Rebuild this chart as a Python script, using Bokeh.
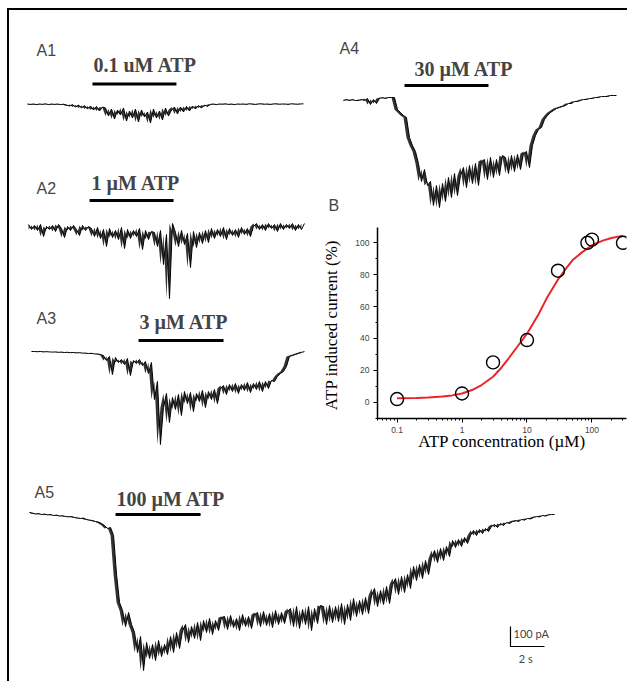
import numpy as np
from bokeh.plotting import figure
from bokeh.layouts import column, row
from bokeh.models import Range1d, Label, FixedTicker, SingleIntervalTicker, CustomJSTickFormatter
from bokeh.embed import file_html
from bokeh.resources import INLINE

# ---------------- data ----------------
panel_names = ["A1", "A2", "A3", "A4", "A5"]
atp_labels = ["0.1 uM ATP", "1 \u00b5M ATP", "3 \u00b5M ATP", "30 \u00b5M ATP", "100 \u00b5M ATP"]

# trace start / end times (s)
trace_start = [1.06, 1.12, 1.29, 1.41, 1.18]
trace_end = [17.29, 17.35, 17.35, 17.47, 32.06]

# ATP application (s)
atp_on = [4.88, 4.71, 7.59, 5.00, 6.24]
atp_off = [9.82, 9.65, 12.59, 9.94, 11.24]

# currents (pA), evenly sampled between start and end
A1_current = [0, -2, 0, -3, 0, -2, 1, -3, 0, -2, 0, -3, -1,
              -5, -10, -3, -15, -5, -20, -8, -25, -10, -30, -12, -35, -15,
              -20, -60, -25, -75, -30, -55, -20, -85, -35, -70, -25, -90, -30, -65, -40, -95, -25, -70, -35, -80, -20, -60, -30,
              -15, -50, -15, -40, -12, -35, -10, -25, -8, -20, -5, -12,
              -2, 0, -3, 0, -1, 1, -2, 0, -3, 0, -1, 0, -2, 1, 0, -2, 0, 1, -1, 0, -2, 0, 1, -1, 0, 0, -2, 1, 0, -1, 0, 1]

A2_current = [0, -25, -5, -30, 0, -60, -10, -25, -5, -35, 0, -20, -65, -10, -30, -5, -25, -55, -5, -30, -10,
              -20, -60, -15, -70, -25, -110, -20, -65, -30, -75, -15, -120, -25, -70, -30, -60, -20, -125, -30, -75, -35,
              -40, -110, -30, -200, -50,
              -370, 5,
              -40, -110, -30, -100, -45, -215, -35, -115, -40, -95, -30, -90,
              -20, -70, -25, -60, -15, -75, -20, -55, -25, -65, -15, -50, -20, -60, -10,
              5, -25, 0, -30, 5, -20, 0, -35, 5, -25, 0, -20, 5, -30, 0, -25, 5]

A3_current = [0, 0, -1, 0, -2, -1, -2, -3, -2, -4, -3, -5, -4, -6, -5, -7, -6, -8, -8, -10, -9, -12, -12, -15,
              -20, -45, -25, -115, -30, -55, -40, -65, -35, -120, -45, -60, -40, -70, -50, -110, -55,
              -240, -150,
              -465,
              -280, -210, -355, -230, -290, -215, -320,
              -200, -260, -205, -300, -210, -250, -195, -280, -200, -240, -190, -260, -185,
              -170, -215, -165, -200, -160, -210, -165, -195, -155, -205, -160, -190, -150, -200, -150, -185, -145,
              -150, -125, -110, -100,
              -75, -25,
              -20, -15, -10, -5, 0]

A4_current = [-15, -10, -15, -10, -15, -15, -10, -15,
              -5, -35, -10, -30,
              -5, 0, -5, 0, 0,
              0, -60, -75, -90,
              -100, -200,
              -240, -270,
              -330, -420, -360, -440,
              -420, -540, -440, -550, -430, -520,
              -400, -500, -380, -490, -390,
              -350, -450, -340, -430, -330, -440, -320,
              -310, -410, -300, -400, -310, -390, -290,
              -300, -380, -290, -370, -285, -360, -280,
              -270, -350, -240,
              -190, -160, -150,
              -110, -90, -75,
              -65, -55, -50, -45,
              -40, -30, -30, -20, -20, -15,
              -10, -10, -5, -5, 0, 0, 5,
              5, 5, 10, 10, 10]

A5_current = [0, -3, -8, -5, -10, -8, -12, -10, -15, -13, -18, -16, -20, -22, -20, -25, -27, -30, -28, -35, -38, -40, -45, -48, -55,
              -65, -80, -75, -115,
              -310,
              -450,
              -490, -570, -500, -560,
              -600, -700, -620,
              -790,
              -650, -730, -660, -740, -640, -720, -660, -710,
              -620, -700, -600, -680, -590,
              -560, -650, -570, -630, -550, -640,
              -540, -600, -530, -610, -540, -590, -525,
              -520, -585, -515, -575, -530, -590, -510, -570, -520, -580, -510,
              -500, -570, -495, -565, -505, -575, -490, -560, -500, -555, -495,
              -480, -570, -470, -580, -485, -560, -470, -590, -480, -555, -465,
              -470, -560, -465, -550, -470, -545, -455, -560, -460, -540,
              -430, -520, -440, -510, -425, -505, -415,
              -380, -470, -390, -460, -370, -455, -360,
              -330, -410, -320, -400, -310, -380,
              -270, -340, -260, -330, -240, -310, -230,
              -190, -250, -180, -240, -170, -220,
              -140, -175, -135, -170, -125, -155, -115,
              -90, -115, -85, -105, -80, -95, -70,
              -60, -75, -55, -65, -50, -55, -45,
              -40, -45, -35, -38, -30, -32, -25,
              -20, -22, -15, -18, -12, -10, -10]

traces = [A1_current, A2_current, A3_current, A4_current, A5_current]

# scale bar
scale_current = 100  # pA
scale_time = 2       # s

# dose-response (panel B)
atp_conc = [0.1, 1, 3, 10, 30, 85, 100, 300]
atp_response = [2, 5.5, 25, 39, 82.5, 100, 102, 100]
fit_conc = [0.1, 0.2, 0.3, 0.5, 0.7, 1, 1.5, 2, 3, 4, 5, 7, 10, 15, 20, 30, 40, 50, 70, 100, 150, 200, 300]
fit_response = [2.5, 2.7, 3.0, 3.6, 4.3, 5.5, 8.0, 10.8, 16.0, 21.5, 26.5, 34.5, 43, 55, 65, 77, 84, 89, 94, 98.5, 101.5, 103, 104.5]

# ---------------- styling / layout ----------------
PX_PER_S = 17.0
SANS = "Liberation Sans"
SERIF = "Liberation Serif"

# (width, height, y_start, y_end, name_pos, label_pos, bar_y)
geom = [
    (310, 152, -292.5, 467.5, (1.59, 267.5), (4.94, 197.5), 100),
    (310, 140, -390, 310, (1.59, 180), (4.82, 210), 120),
    (310, 173, -620, 245, (1.59, 165), (7.65, 150), 55),
    (308, 204, -585, 435, (1.18, 245), (5.59, 145), 60),
    (618, 206, -845, 185, (1.47, 100), (6.29, 67), -10),
]


def trace_fig(i):
    w, h, y0, y1, npos, lpos, bar_y = geom[i]
    p = figure(width=w, height=h, x_range=Range1d(0, w / PX_PER_S), y_range=Range1d(y0, y1),
               output_backend="svg", toolbar_location=None, min_border=0,
               x_axis_location=None, y_axis_location=None, frame_align=False)
    p.grid.visible = False
    p.outline_line_color = None
    vals = np.array(traces[i], dtype=float)
    t = np.linspace(trace_start[i], trace_end[i], len(vals))
    p.varea(x=t[:-1], y1=vals[:-1], y2=vals[1:], fill_color="black", fill_alpha=0.8)
    p.line(t, vals, line_color="black", line_width=1.0)
    p.line([atp_on[i], atp_off[i]], [bar_y, bar_y], line_color="black", line_width=3)
    p.add_layout(Label(x=npos[0], y=npos[1], text=panel_names[i], text_font=SANS,
                       text_font_size="16px", text_baseline="middle", text_align="left"))
    p.add_layout(Label(x=lpos[0], y=lpos[1], text=atp_labels[i], text_font=SERIF,
                       text_font_style="bold", text_font_size="20px",
                       text_baseline="middle", text_align="left"))
    return p


pA1, pA2, pA3, pA4, pA5 = [trace_fig(i) for i in range(5)]

pA4.add_layout(Label(x=0.53, y=-540, text="B", text_font=SANS, text_font_size="16px",
                     text_baseline="middle", text_align="left"))

# scale bar on A5
sb_t = 29.47
sb_v = -670
pA5.line([sb_t, sb_t, sb_t + scale_time], [sb_v + scale_current, sb_v, sb_v],
         line_color="black", line_width=1.2)
pA5.add_layout(Label(x=sb_t + 0.18, y=sb_v + 65, text=f"{scale_current} pA", text_font="Lato",
                     text_font_size="11px", text_baseline="middle", text_align="left"))
pA5.add_layout(Label(x=sb_t + scale_time / 2 - 0.1, y=sb_v - 60, text=f"{scale_time} s", text_font="Lato",
                     text_font_size="11px", text_baseline="middle", text_align="center"))

# panel B
pB = figure(width=308, height=261, x_axis_type="log",
            x_range=Range1d(0.05, 340), y_range=Range1d(-10.2, 109.6),
            output_backend="svg", toolbar_location=None, frame_align=False,
            min_border_left=53, min_border_right=1, min_border_top=13, min_border_bottom=57)
pB.grid.visible = False
pB.outline_line_color = None
pB.line(fit_conc, fit_response, line_color="#e8262a", line_width=2)
pB.scatter(atp_conc, atp_response, marker="circle", size=13, fill_color=None,
           line_color="black", line_width=1.4)

minor = []
for d in [0.01, 0.1, 1, 10, 100]:
    for k in range(2, 10):
        minor.append(k * d)
pB.xaxis.ticker = FixedTicker(ticks=[0.1, 1, 10, 100], minor_ticks=minor)
pB.xaxis.formatter = CustomJSTickFormatter(code="return String(tick);")
pB.yaxis.ticker = SingleIntervalTicker(interval=20, num_minor_ticks=2)
for ax in [pB.xaxis[0], pB.yaxis[0]]:
    ax.axis_line_width = 1.5
    ax.major_tick_in = 0
    ax.major_tick_out = 4
    ax.minor_tick_in = 0
    ax.minor_tick_out = 2
    ax.major_label_text_font = SANS
    ax.major_label_text_font_size = "8.5px"
    ax.major_label_text_color = "#444444"
    ax.axis_label_text_font = SERIF
    ax.axis_label_text_font_style = "normal"
    ax.axis_label_text_font_size = "17px"
    ax.axis_label_text_color = "black"
pB.xaxis.axis_label = "ATP concentration (\u00b5M)"
pB.yaxis.axis_label = "ATP induced current  (%)"
pB.xaxis.major_label_standoff = 4
pB.yaxis.major_label_standoff = 4
pB.xaxis.axis_label_standoff = -4
pB.yaxis.axis_label_standoff = 11

layout = column(
    row(column(pA1, pA2, pA3), column(pA4, pB)),
    pA5,
    styles={"margin-left": "7px", "margin-top": "8px",
            "border-left": "2px solid black", "border-top": "2px solid black"},
)

open("out.html", "w").write(file_html(layout, INLINE))
